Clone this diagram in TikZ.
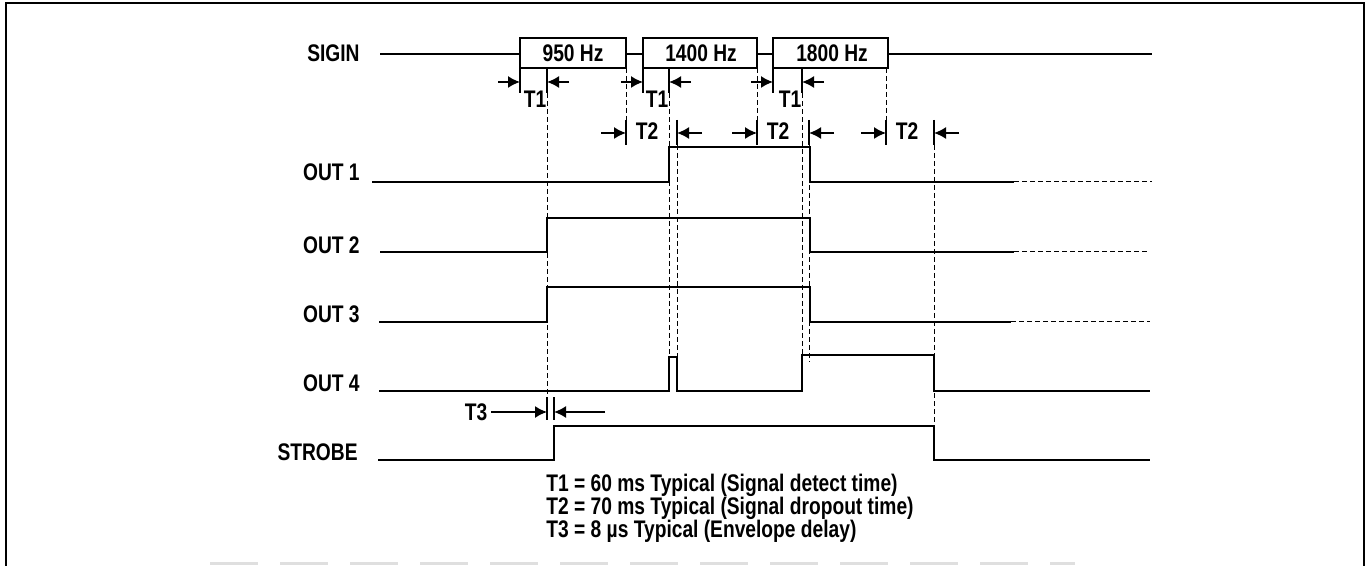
\documentclass[tikz,border=0pt]{standalone}
\usepackage{fontspec}
\setmainfont{Liberation Sans}[FakeStretch=0.8]
\usetikzlibrary{arrows.meta}
\begin{document}
\begin{tikzpicture}[x=0.5pt,y=-0.5pt,
	font=\bfseries\fontsize{12}{11.5}\selectfont,
	>={Latex[length=6pt,width=6pt]},
	wave/.style={line width=1pt},
	guide/.style={line width=0.5pt,dash pattern=on 2.5pt off 1.5pt},
	tick/.style={line width=0.75pt},
	dim/.style={->,line width=0.8pt},
	sig/.style={anchor=base east,inner sep=0pt}]
	\useasboundingbox (0,0) rectangle (1369,566);
	% frame
	\draw[line width=1.4pt] (6,566) -- (6,3) -- (1364,3) -- (1364,566);
	\draw[gray!25,line width=1.5pt,dash pattern=on 24pt off 11pt] (210,563) -- (1075,563);
	% signal names
	\draw
	(360,62) node[sig](sigin){SIGIN}
	(360,181) node[sig](out1){OUT 1}
	(360,254) node[sig](out2){OUT 2}
	(360,322) node[sig](out3){OUT 3}
	(360,391) node[sig](out4){OUT 4}
	(358,460) node[sig](strobe){STROBE};
	% guide lines
	\draw[guide] (547,93) -- (547,397) (669,93) -- (669,357) (677,145) -- (677,357)
	(802,93) -- (802,355) (809,145) -- (809,362) (934,145) -- (934,426)
	(626,68) -- (626,120) (757,68) -- (757,120) (886,68) -- (886,120);
	% SIGIN
	\draw[wave] (380,54) -- (520,54) (626,54) -- (643,54) (757,54) -- (773,54) (888,54) -- (1152,54);
	\draw[wave] (520,38) rectangle (626,68) (643,38) rectangle (757,68) (773,38) rectangle (888,68);
	\draw (573,53) node(f950){950 Hz} (701,53) node(f1400){1400 Hz} (832,53) node(f1800){1800 Hz};
	% T1 and T2
	\foreach \a/\b in {520/547,643/669,773/802}{
		\draw[tick] (\a,68) -- (\a,93) (\b,68) -- (\b,93);
		\draw[dim] (\a-22,82) -- (\a,82);
		\draw[dim] (\b+22,82) -- (\b,82);
		\node (t1\a) at (\b-12,99) {T1};
	}
	\foreach \a/\b in {626/677,757/809,886/934}{
		\draw[tick] (\a,120) -- (\a,145) (\b,120) -- (\b,145);
		\draw[dim] (\a-25,133) -- (\a,133);
		\draw[dim] (\b+25,133) -- (\b,133);
		\node (t2\a) at (\a+21,131) {T2};
	}
	% outputs
	\draw[wave] (372,182) -- (669,182) -- (669,147) -- (810,147) -- (810,182) -- (1014,182);
	\draw[wave] (380,252) -- (547,252) -- (547,218) -- (810,218) -- (810,252) -- (1014,252);
	\draw[wave] (379,322) -- (547,322) -- (547,287) -- (810,287) -- (810,322) -- (1011,322);
	\draw[guide] (1014,182) -- (1152,182) (1014,252) -- (1150,252) (1011,322) -- (1150,322);
	\draw[wave] (379,391) -- (669,391) -- (669,357) -- (677,357) -- (677,391) -- (802,391)
	-- (802,355) -- (934,355) -- (934,391) -- (1150,391);
	\draw[wave] (378,460) -- (554,460) -- (554,426) -- (934,426) -- (934,460) -- (1150,460);
	% T3
	\draw[tick] (547,397) -- (547,420) (554,397) -- (554,420);
	\node (t3) at (476,412) {T3};
	\draw[dim] (491,412) -- (547,412);
	\draw[dim] (605,412) -- (554,412);
	% legend
	\node[anchor=west,align=left,inner sep=0pt] (legend) at (546,508)
	{T1 = 60 ms Typical (Signal detect time)\\
	T2 = 70 ms Typical (Signal dropout time)\\
	T3 = 8 µs Typical (Envelope delay)};
\end{tikzpicture}
\end{document}
